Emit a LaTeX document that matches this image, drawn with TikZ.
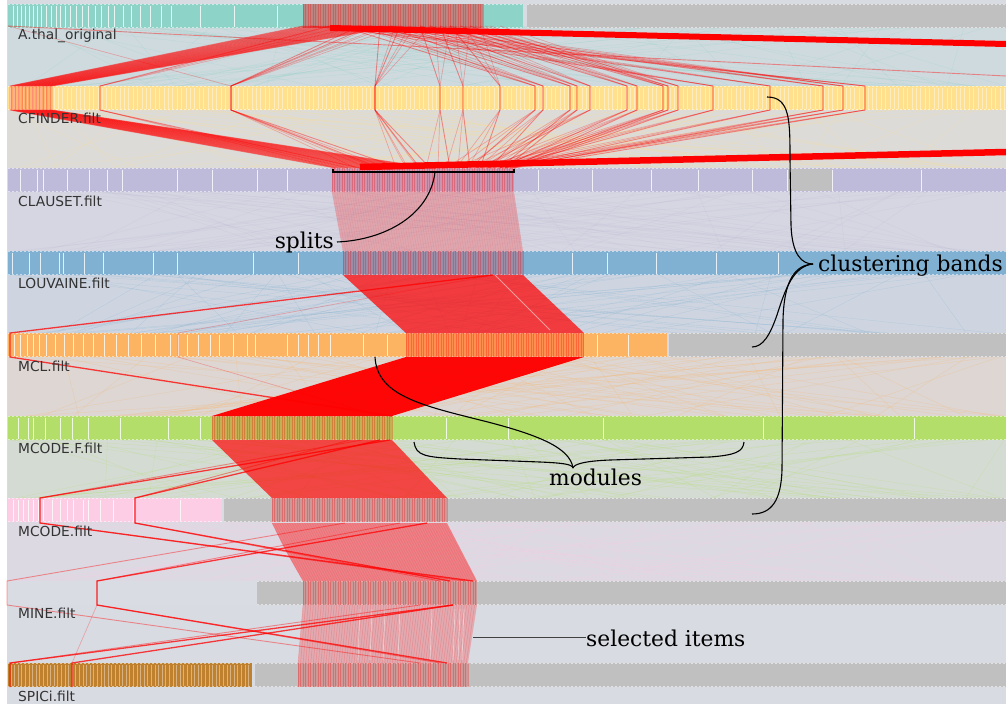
\documentclass[tikz,border=0pt]{standalone}
\usepackage{fontspec}
\newfontfamily\labfont{DejaVu Sans}
\newfontfamily\annfont{DejaVu Serif}
\definecolor{bgc}{HTML}{D9DBE2}
\definecolor{cteal}{HTML}{8DD3C7}
\definecolor{cyel}{HTML}{FFE08C}
\definecolor{clav}{HTML}{BEBADA}
\definecolor{cblue}{HTML}{80B1D3}
\definecolor{corange}{HTML}{FDB462}
\definecolor{cgreen}{HTML}{B3DE69}
\definecolor{cpink}{HTML}{FCCDE5}
\definecolor{cbrown}{HTML}{BF812D}
\definecolor{cgray}{HTML}{C0C0C0}
\definecolor{cselgray}{HTML}{AAA7A3}
\newcommand\gapfill[3]{%
  \fill[#3, opacity=.12] (8,#1) rectangle (1006,#2);
  \foreach \i in {1,...,70}{%
    \pgfmathsetmacro\xa{8+rnd*998}%
    \pgfmathsetmacro\xb{8+rnd*998}%
    \draw[#3, opacity=.3, line width=.35pt] (\xa,#1) -- (\xb,#2);
  }}
\newcommand\bandrect[4]{%
  \fill[#4] (#2,#1) rectangle (#3,#1+24);
  \draw[notch] (#2,#1+.65) -- (#3,#1+.65);
  \draw[notch] (#2,#1+23.35) -- (#3,#1+23.35);}
\newcommand\divs[2]{\foreach \x in {#2} \draw[divw] (\x,#1+1.5) -- (\x,#1+22.5);}
\newcommand\selov[3]{%
  \fill[red,opacity=.2] (#2,#1) rectangle ++(#3,24);
  \foreach \x in {0,2.5,...,#3} \draw[selt] (#2+\x,#1) -- ++(0,24);}
\begin{document}
\begin{tikzpicture}[x=1pt,y=-1pt,
  rl/.style={draw=red, opacity=.4, line width=.9pt},
  rlf/.style={draw=red, opacity=.25, line width=.7pt},
  rls/.style={draw=red, opacity=.75, line width=1.3pt},
  notch/.style={draw=white, opacity=.55, line width=1.3pt, dash pattern=on 2pt off 2pt},
  divw/.style={draw=white, opacity=.8, line width=.8pt},
  selt/.style={draw=red, opacity=.28, line width=.7pt},
  lbl/.style={font=\labfont\fontsize{13.8}{14}\selectfont, text=black!80, anchor=west, inner sep=0pt},
  ann/.style={font=\annfont\fontsize{21.8}{24}\selectfont, text=black, inner sep=0pt},
  anno/.style={draw=black, line width=1.1pt},
]
\useasboundingbox (0,0) rectangle (1006,704);
\fill[bgc] (0,0) rectangle (1006,704);
\fill[white] (0,0) rectangle (7,704);
\pgfmathsetseed{7}
% textures between bands
\gapfill{26}{86}{cteal}
\gapfill{110}{168}{cyel}
\gapfill{192}{251}{clav}
\gapfill{275}{333}{cblue}
\gapfill{357}{416}{corange}
\gapfill{440}{498}{cgreen}
\gapfill{522}{581}{cpink}
% ---- bands
% A.thal
\bandrect{4}{8}{523}{cteal}
\bandrect{4}{527}{1006}{cgray}
\divs{4}{13,17,21,25,29,33,37,41,46,51,56,60,65,70,76,82,88,95,101,108,114,123,131,140,150,161,171,200,234,277}
\fill[cselgray] (303,4) rectangle (483,28);
\selov{4}{303}{180}
% CFINDER
\bandrect{86}{8}{1006}{cyel}
\foreach \x in {10,14.4,...,1006} \draw[white,opacity=.45,line width=.9pt] (\x,87.5) -- (\x,108.5);
% CLAUSET
\bandrect{168}{8}{1006}{clav}
\fill[cgray] (787,169) rectangle (831,191);
\divs{168}{20,37,43,67,89,107,122,177,212,257,287,538,592,651,698,752,787,832,921}
\selov{168}{332}{182}
% LOUVAINE
\bandrect{251}{8}{1006}{cblue}
\divs{251}{12,29,40,59,63,84,103,153,177,253,298,572,607,656,716,778}
\selov{251}{343}{180}
% MCL
\bandrect{333}{8}{667}{corange}
\bandrect{333}{669}{1006}{cgray}
\divs{333}{14,20,27,33,39,46,55,64,73,83,93,104,116,128,141,155,170,178,187,198,210,219,233,247,255,287,298,308,318,330,363,387,597,628}
\selov{333}{406}{178}
% MCODE.F
\bandrect{416}{8}{1006}{cgreen}
\divs{416}{18,28,33,45,60,72,88,120,168,200,446,508,603,763,914}
\selov{416}{212}{180}
% MCODE
\bandrect{498}{8}{222}{cpink}
\bandrect{498}{224}{1006}{cgray}
\divs{498}{13,18,23,28,33,38,43,52,60,67,73,83,88,100,113,133,180}
\selov{498}{272}{175}
% MINE
\fill[white,opacity=.05] (8,581) rectangle (257,605);
\bandrect{581}{257}{1006}{cgray}
\selov{581}{303}{174}
% SPICi
\bandrect{663}{8}{252}{cbrown}
\foreach \x in {11,14.6,...,250} \draw[white,opacity=.4,line width=.8pt] (\x,664.5) -- (\x,685.5);
\bandrect{663}{255}{1006}{cgray}
\selov{663}{298}{170}
% ---- ribbons between selections
\fill[red,opacity=.22] (332,192) -- (514,192) -- (523,251) -- (343,251) -- cycle;
\foreach \i in {0,...,72} \draw[red,opacity=.08,line width=.6pt] (332+\i*2.5,192) -- (343+\i*2.47,251);
\fill[red,opacity=.72] (343,275) -- (523,275) -- (584,333) -- (406,333) -- cycle;
\fill[red,opacity=.97] (406,357) -- (584,357) -- (392,416) -- (212,416) -- cycle;
\fill[red,opacity=.68] (212,440) -- (392,440) -- (447,498) -- (272,498) -- cycle;
\fill[red,opacity=.4] (272,523) .. controls (285,550) .. (303,581) -- (477,581) -- (447,523) -- cycle;
\foreach \i in {0,...,69} \draw[red,opacity=.12,line width=.6pt] (272+\i*2.5,523) -- (303+\i*2.5,581);
\fill[red,opacity=.22] (303,605) -- (477,605) -- (468,663) -- (298,663) -- cycle;
\foreach \i in {0,...,66} \draw[red,opacity=.16,line width=.6pt] (303+\i*2.6,605) -- (298+\i*2.55,663);
\draw[white,opacity=.5,line width=.8pt] (495,275) -- (550,330);
\foreach \x in {360,372,385,400,432,455,460,464} \draw[white,opacity=.45,line width=.7pt] (\x,609) -- (\x-2,660);
% ---- red connection lines, top part
\foreach \i in {0,...,30} \draw[rl] (303+\i*3.2,26) -- (10+\i*1.4,86) -- (10+\i*1.4,110) -- (335+\i*3.2,168);
\foreach \xc/\xa/\xb in {100/330/360, 231/360/380, 231/370/400, 375/380/420, 375/400/430, 440/420/450, 463/440/470, 500/450/480, 535/340/470, 543/360/490, 570/380/500, 577/400/505, 590/420/480, 627/430/500, 637/440/510, 663/450/505, 668/460/512, 678/470/514, 713/330/500, 770/350/505, 823/370/510, 843/390/505, 865/310/514}
  {\draw[rl] (\xa,26) -- (\xc,86) -- (\xc,110) -- (\xb,168);
   \draw[rlf] (\xa+15,26) -- (\xc,86) -- (\xc,110) -- (\xb-12,168);
   \draw[rlf] (\xa+30,26) -- (\xc,86) -- (\xc,110) -- (\xb-24,168);}
\draw[rl] (8,26) -- (1006,76);
\draw[rlf] (8,26) -- (231,86);
\draw[red,line width=6pt] (330,28) -- (1006,44);
\draw[red,line width=6.5pt] (360,167) -- (1006,152);
% ---- red connection lines, lower part
\draw[rls] (493,275) -- (10,333) -- (10,357) -- (392,416);
\draw[rlf] (493,275) -- (178,333) -- (178,357) -- (380,416);
\draw[rls] (390,440) -- (40,498) -- (40,523) -- (473,581);
\draw[rl] (362,440) -- (40,498) -- (40,523) -- (465,581);
\draw[rls] (380,440) -- (135,498) -- (135,523) -- (450,581);
\draw[rl] (350,440) -- (135,498) -- (135,523) -- (440,581);
\draw[rls] (427,523) -- (97,581) -- (97,605) -- (447,663);
\draw[rl] (400,523) -- (97,581) -- (97,605) -- (440,663);
\draw[rl] (345,523) -- (7,581) -- (7,605) -- (420,663);
\draw[rls] (453,605) -- (72,663) -- (72,687);
\draw[rls] (453,605) -- (10,663) -- (10,687);
\draw[rl] (420,605) -- (10,663);
\draw[rlf] (97,605) -- (72,663);
% ---- band labels
\node[lbl] (lA) at (18,36) {A.thal\_original};
\node[lbl] (lB) at (18,118) {CFINDER.filt};
\node[lbl] (lC) at (18,201) {CLAUSET.filt};
\node[lbl] (lD) at (18,283) {LOUVAINE.filt};
\node[lbl] (lE) at (18,366) {MCL.filt};
\node[lbl] (lF) at (18,448) {MCODE.F.filt};
\node[lbl] (lG) at (18,531) {MCODE.filt};
\node[lbl] (lH) at (18,613) {MINE.filt};
\node[lbl] (lI) at (18,696) {SPICi.filt};
% ---- annotations
\node[ann, anchor=base east] (splits) at (334,248) {splits};
\draw[black, line width=1.6pt] (333,168.5) -- (333,172) -- (514,172) -- (514,168.5);
\coordinate (sp) at (435,172);
\draw[anno] (sp) .. controls (430,215) and (385,240) .. ([xshift=3pt]splits.east);
\node[ann, anchor=base west] (cb) at (818,271) {clustering bands};
\coordinate (cbtip) at (813,264);
\coordinate (cbA) at (767,97);
\coordinate (cbB) at (752,347);
\coordinate (cbC) at (752,514);
\draw[anno] (cbA) .. controls (790,97) and (790,120) .. (790,160) -- (791,225) .. controls (792,255) and (802,264) .. (cbtip);
\draw[anno] (cbtip) .. controls (793,266) and (785,290) .. (777,315) .. controls (770,335) and (763,347) .. (cbB);
\draw[anno] (cbtip) .. controls (795,265) and (784,280) .. (783,320) -- (782,470) .. controls (781,500) and (772,514) .. (cbC);
\node[ann, anchor=base west] (mod) at (549,485) {modules};
\coordinate (mtip) at (573,468);
\coordinate (mL) at (414,442);
\coordinate (mR) at (744,442);
\coordinate (mcl) at (375,357);
\draw[anno] (mL) .. controls (416,456) and (425,457) .. (460,459) -- (540,462) .. controls (562,463) and (572,464) .. (mtip);
\draw[anno] (mtip) .. controls (574,464) and (585,461) .. (610,460) -- (710,457) .. controls (735,455) and (743,452) .. (mR);
\draw[anno] (mcl) .. controls (377,395) and (420,405) .. (480,420) .. controls (540,435) and (570,448) .. (mtip);
\node[ann, anchor=base west] (sel) at (586,646) {selected items};
\coordinate (selpt) at (473,637);
\draw[black!75, line width=1pt] (selpt) -- (sel.west |- selpt) ;
\end{tikzpicture}
\end{document}
